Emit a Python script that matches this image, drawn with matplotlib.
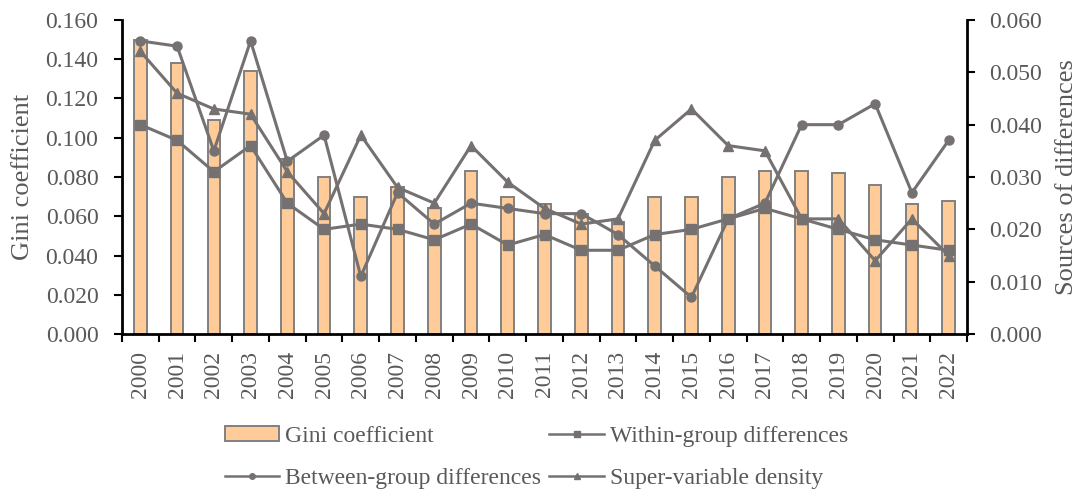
import matplotlib
matplotlib.use('Agg')
import matplotlib.pyplot as plt
from matplotlib.ticker import MultipleLocator, FormatStrFormatter, FixedLocator
from matplotlib.lines import Line2D
from matplotlib.patches import Patch
import numpy as np

years = [str(y) for y in range(2000, 2023)]
gini = [0.150, 0.138, 0.109, 0.134, 0.089, 0.080, 0.070, 0.075, 0.064, 0.083, 0.070, 0.066,
        0.061, 0.057, 0.070, 0.070, 0.080, 0.083, 0.083, 0.082, 0.076, 0.066, 0.068]
within = [0.040, 0.037, 0.031, 0.036, 0.025, 0.020, 0.021, 0.020, 0.018, 0.021, 0.017, 0.019,
          0.016, 0.016, 0.019, 0.020, 0.022, 0.024, 0.022, 0.020, 0.018, 0.017, 0.016]
between = [0.056, 0.055, 0.035, 0.056, 0.033, 0.038, 0.011, 0.027, 0.021, 0.025, 0.024, 0.023,
           0.023, 0.019, 0.013, 0.007, 0.022, 0.025, 0.040, 0.040, 0.044, 0.027, 0.037]
density = [0.054, 0.046, 0.043, 0.042, 0.031, 0.023, 0.038, 0.028, 0.025, 0.036, 0.029, 0.024,
           0.021, 0.022, 0.037, 0.043, 0.036, 0.035, 0.022, 0.022, 0.014, 0.022, 0.015]

plt.rcParams['font.family'] = ['Liberation Serif', 'DejaVu Serif']
TXT = '#595959'
LINE = '#767171'
FS = 17

fig = plt.figure(figsize=(10.81, 4.94), dpi=100)
ax = fig.add_axes([122/1081, 1-334/494, (967-122)/1081, (334-20)/494])
x = np.arange(len(years))
ax.bar(x, gini, width=0.345, color='#FFCC99', edgecolor='#808080', linewidth=1.4, zorder=2)
ax.set_xlim(-0.5, len(years)-0.5)
ax.set_ylim(0, 0.16)
ax.yaxis.set_major_locator(MultipleLocator(0.02))
ax.yaxis.set_major_formatter(FormatStrFormatter('%.3f'))
ax.set_xticks(x)
ax.set_xticklabels(years, rotation=90)
ax.xaxis.set_minor_locator(FixedLocator(np.arange(-0.5, len(years), 1.0)))
ax.tick_params(axis='x', which='major', length=0, pad=12, labelsize=FS, labelcolor=TXT)
ax.tick_params(axis='x', which='minor', length=6, width=1.5, direction='out', color='black')
ax.tick_params(axis='y', length=6, width=1.5, direction='out', pad=11, labelsize=FS, labelcolor=TXT)
for s in ['left', 'bottom']:
    ax.spines[s].set_linewidth(2.0)
    ax.spines[s].set_color('black')
ax.spines['top'].set_visible(False)
ax.spines['right'].set_visible(False)

ax2 = ax.twinx()
ax2.set_ylim(0, 0.06)
ax2.yaxis.set_major_locator(MultipleLocator(0.01))
ax2.yaxis.set_major_formatter(FormatStrFormatter('%.3f'))
ax2.tick_params(axis='y', length=6, width=1.5, direction='out', pad=10, labelsize=FS, labelcolor=TXT)
ax2.spines['right'].set_linewidth(2.0)
ax2.spines['right'].set_color('black')
for s in ['top', 'left', 'bottom']:
    ax2.spines[s].set_visible(False)

lw = 2.2
ax2.plot(x, within, color=LINE, lw=lw, marker='s', ms=6.5, zorder=3)
ax2.plot(x, between, color=LINE, lw=lw, marker='o', ms=6.5, zorder=3)
ax2.plot(x, density, color=LINE, lw=lw, marker='^', ms=6.5, zorder=3)

fig.text(23/1081, 1-177/494, 'Gini coefficient', rotation=90, ha='center', va='center',
         fontsize=19, color=TXT)
fig.text(1067/1081, 1-177/494, 'Sources of differences', rotation=90, ha='center', va='center',
         fontsize=19, color=TXT)

h_gini = Patch(facecolor='#FFCC99', edgecolor='#808080', linewidth=1.4)
h_within = Line2D([], [], color=LINE, lw=1.8, marker='s', ms=4)
h_between = Line2D([], [], color=LINE, lw=1.8, marker='o', ms=4)
h_density = Line2D([], [], color=LINE, lw=1.8, marker='^', ms=4)
leg = fig.legend([h_gini, h_between, h_within, h_density],
                 ['Gini coefficient', 'Between-group differences', 'Within-group differences',
                  'Super-variable density'],
                 loc='center left', bbox_to_anchor=(225/1081, 1-457.5/494), ncol=2,
                 frameon=False, fontsize=FS, handlelength=2.3, handleheight=0.6,
                 handletextpad=0.25, columnspacing=0.35, labelspacing=0.9,
                 borderpad=0, borderaxespad=0)
for t in leg.get_texts():
    t.set_color(TXT)

fig.savefig('out.png', dpi=100)
